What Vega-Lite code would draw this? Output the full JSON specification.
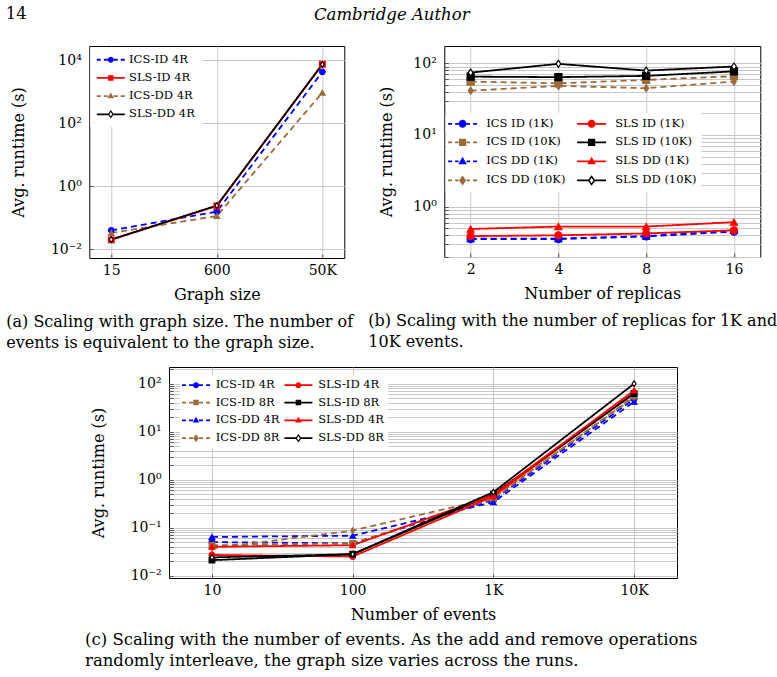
{
  "$schema": "https://vega.github.io/schema/vega-lite/v6.json",
  "padding": {"left": 5, "top": 6, "right": 0, "bottom": 0},
  "background": "white",
  "title": {"text": "Cambridge Author", "anchor": "middle", "frame": "bounds", "fontStyle": "italic", "fontSize": 16.5, "offset": 0, "dy": 30.2, "baseline": "alphabetic"},
  "datasets": {
    "a": [
      {"g": "15", "s": "ICS-ID 4R", "t": 0.040}, {"g": "600", "s": "ICS-ID 4R", "t": 0.156}, {"g": "50K", "s": "ICS-ID 4R", "t": 4300},
      {"g": "15", "s": "SLS-ID 4R", "t": 0.020}, {"g": "600", "s": "SLS-ID 4R", "t": 0.237}, {"g": "50K", "s": "SLS-ID 4R", "t": 7500},
      {"g": "15", "s": "ICS-DD 4R", "t": 0.033}, {"g": "600", "s": "ICS-DD 4R", "t": 0.114}, {"g": "50K", "s": "ICS-DD 4R", "t": 940},
      {"g": "15", "s": "SLS-DD 4R", "t": 0.0205}, {"g": "600", "s": "SLS-DD 4R", "t": 0.245}, {"g": "50K", "s": "SLS-DD 4R", "t": 7400}
    ],
    "b": [
      {"r": "2", "s": "ICS ID (1K)", "t": 0.355}, {"r": "4", "s": "ICS ID (1K)", "t": 0.355}, {"r": "8", "s": "ICS ID (1K)", "t": 0.386}, {"r": "16", "s": "ICS ID (1K)", "t": 0.45},
      {"r": "2", "s": "ICS ID (10K)", "t": 55.5}, {"r": "4", "s": "ICS ID (10K)", "t": 52.5}, {"r": "8", "s": "ICS ID (10K)", "t": 58.5}, {"r": "16", "s": "ICS ID (10K)", "t": 66},
      {"r": "2", "s": "ICS DD (1K)", "t": 0.36}, {"r": "4", "s": "ICS DD (1K)", "t": 0.36}, {"r": "8", "s": "ICS DD (1K)", "t": 0.39}, {"r": "16", "s": "ICS DD (1K)", "t": 0.47},
      {"r": "2", "s": "ICS DD (10K)", "t": 41.5}, {"r": "4", "s": "ICS DD (10K)", "t": 48.3}, {"r": "8", "s": "ICS DD (10K)", "t": 44.9}, {"r": "16", "s": "ICS DD (10K)", "t": 55.5},
      {"r": "2", "s": "SLS ID (1K)", "t": 0.39}, {"r": "4", "s": "SLS ID (1K)", "t": 0.40}, {"r": "8", "s": "SLS ID (1K)", "t": 0.425}, {"r": "16", "s": "SLS ID (1K)", "t": 0.47},
      {"r": "2", "s": "SLS ID (10K)", "t": 65}, {"r": "4", "s": "SLS ID (10K)", "t": 64}, {"r": "8", "s": "SLS ID (10K)", "t": 66.6}, {"r": "16", "s": "SLS ID (10K)", "t": 77},
      {"r": "2", "s": "SLS DD (1K)", "t": 0.49}, {"r": "4", "s": "SLS DD (1K)", "t": 0.53}, {"r": "8", "s": "SLS DD (1K)", "t": 0.53}, {"r": "16", "s": "SLS DD (1K)", "t": 0.61},
      {"r": "2", "s": "SLS DD (10K)", "t": 74}, {"r": "4", "s": "SLS DD (10K)", "t": 98}, {"r": "8", "s": "SLS DD (10K)", "t": 79}, {"r": "16", "s": "SLS DD (10K)", "t": 90}
    ],
    "c": [
      {"e": "10", "s": "ICS-ID 4R", "t": 0.050}, {"e": "100", "s": "ICS-ID 4R", "t": 0.047}, {"e": "1K", "s": "ICS-ID 4R", "t": 0.38}, {"e": "10K", "s": "ICS-ID 4R", "t": 48},
      {"e": "10", "s": "ICS-ID 8R", "t": 0.043}, {"e": "100", "s": "ICS-ID 8R", "t": 0.047}, {"e": "1K", "s": "ICS-ID 8R", "t": 0.40}, {"e": "10K", "s": "ICS-ID 8R", "t": 55},
      {"e": "10", "s": "ICS-DD 4R", "t": 0.064}, {"e": "100", "s": "ICS-DD 4R", "t": 0.068}, {"e": "1K", "s": "ICS-DD 4R", "t": 0.34}, {"e": "10K", "s": "ICS-DD 4R", "t": 42},
      {"e": "10", "s": "ICS-DD 8R", "t": 0.037}, {"e": "100", "s": "ICS-DD 8R", "t": 0.087}, {"e": "1K", "s": "ICS-DD 8R", "t": 0.42}, {"e": "10K", "s": "ICS-DD 8R", "t": 52},
      {"e": "10", "s": "SLS-ID 4R", "t": 0.027}, {"e": "100", "s": "SLS-ID 4R", "t": 0.025}, {"e": "1K", "s": "SLS-ID 4R", "t": 0.45}, {"e": "10K", "s": "SLS-ID 4R", "t": 65},
      {"e": "10", "s": "SLS-ID 8R", "t": 0.021}, {"e": "100", "s": "SLS-ID 8R", "t": 0.028}, {"e": "1K", "s": "SLS-ID 8R", "t": 0.50}, {"e": "10K", "s": "SLS-ID 8R", "t": 62},
      {"e": "10", "s": "SLS-DD 4R", "t": 0.040}, {"e": "100", "s": "SLS-DD 4R", "t": 0.043}, {"e": "1K", "s": "SLS-DD 4R", "t": 0.48}, {"e": "10K", "s": "SLS-DD 4R", "t": 72},
      {"e": "10", "s": "SLS-DD 8R", "t": 0.024}, {"e": "100", "s": "SLS-DD 8R", "t": 0.028}, {"e": "1K", "s": "SLS-DD 8R", "t": 0.55}, {"e": "10K", "s": "SLS-DD 8R", "t": 100}
    ]
  },
  "vconcat": [
    {
      "title": {"text": "14", "anchor": "start", "frame": "bounds", "fontSize": 16.5, "offset": 10, "baseline": "alphabetic"},
      "bounds": "flush",
      "spacing": 100,
      "resolve": {"scale": {"color": "independent", "fill": "independent", "stroke": "independent", "strokeDash": "independent", "shape": "independent"}},
      "hconcat": [
        {
          "width": 255,
          "height": 212,
          "data": {"name": "a"},
          "title": {"text": ["(a) Scaling with graph size. The number of", "events is equivalent to the graph size."], "orient": "bottom", "anchor": "start", "frame": "group", "align": "left", "dx": -83, "offset": 12, "fontSize": 16, "lineHeight": 20.5},
          "encoding": {
            "x": {"field": "g", "type": "ordinal", "scale": {"type": "point", "domain": ["15", "600", "50K"], "padding": 0.208}, "axis": {"title": "Graph size", "grid": true}},
            "y": {"field": "t", "type": "quantitative", "scale": {"type": "log", "domain": [0.0053, 28400], "nice": false}, "axis": {"title": "Avg. runtime (s)", "grid": true, "values": [0.01, 1, 100, 10000], "titlePadding": 24, "labelExpr": "datum.value >= 5000 ? '10⁴' : datum.value >= 50 ? '10²' : datum.value >= 0.5 ? '10⁰' : '10⁻²'"}}
          },
          "layer": [
            {
              "mark": {"type": "line", "strokeWidth": 1.8},
              "encoding": {
                "color": {"field": "s", "type": "nominal", "legend": null, "scale": {"domain": ["ICS-ID 4R", "SLS-ID 4R", "ICS-DD 4R", "SLS-DD 4R"], "range": ["#0000ff", "#ff0000", "#9c6b3c", "#000000"]}},
                "strokeDash": {"field": "s", "type": "nominal", "legend": null, "scale": {"domain": ["ICS-ID 4R", "SLS-ID 4R", "ICS-DD 4R", "SLS-DD 4R"], "range": [[6, 4], [1, 0], [6, 4], [1, 0]]}}
              }
            },
            {
              "mark": {"type": "point", "filled": true, "opacity": 1, "size": 32, "strokeWidth": 1.2},
              "encoding": {
                "fill": {"field": "s", "type": "nominal", "legend": null, "scale": {"domain": ["ICS-ID 4R", "SLS-ID 4R", "ICS-DD 4R", "SLS-DD 4R"], "range": ["#0000ff", "#ff0000", "#9c6b3c", "#ffffff"]}},
                "stroke": {"field": "s", "type": "nominal", "legend": null, "scale": {"domain": ["ICS-ID 4R", "SLS-ID 4R", "ICS-DD 4R", "SLS-DD 4R"], "range": ["#0000ff", "#ff0000", "#9c6b3c", "#000000"]}},
                "shape": {"field": "s", "type": "nominal", "legend": null, "scale": {"domain": ["ICS-ID 4R", "SLS-ID 4R", "ICS-DD 4R", "SLS-DD 4R"], "range": ["circle", "square", "triangle-up", "M0,-1L0.68,0L0,1L-0.68,0Z"]}}
              }
            },
            {
              "transform": [{"filter": "false"}],
              "mark": {"type": "point", "filled": true, "opacity": 1},
              "encoding": {
                "color": {"field": "s", "type": "nominal", "scale": {"domain": ["ICS-ID 4R", "SLS-ID 4R", "ICS-DD 4R", "SLS-DD 4R"], "range": ["#0000ff", "#ff0000", "#9c6b3c", "#000000"]},
                  "legend": {"title": null, "orient": "none", "legendX": 1, "legendY": 1, "padding": 7, "symbolOffset": 7.75, "labelOffset": 12.5, "rowPadding": 5.2, "columns": 1, "direction": "vertical"}},
                "shape": {"field": "s", "type": "nominal", "scale": {"domain": ["ICS-ID 4R", "SLS-ID 4R", "ICS-DD 4R", "SLS-DD 4R"], "range": [
                    "M-2.8,-0.18H-2.0V0.18H-2.8Z M-1.4,-0.18H-0.6V0.18H-1.4Z M0.6,-0.18H1.4V0.18H0.6Z M2.0,-0.18H2.8V0.18H2.0Z M0.6,0A0.6,0.6 0 1,1 -0.6,0A0.6,0.6 0 1,1 0.6,0Z",
                    "M-2.8,-0.18H2.8V0.18H-2.8Z M-0.55,-0.55H0.55V0.55H-0.55Z",
                    "M-2.8,-0.18H-2.0V0.18H-2.8Z M-1.4,-0.18H-0.6V0.18H-1.4Z M0.6,-0.18H1.4V0.18H0.6Z M2.0,-0.18H2.8V0.18H2.0Z M0,-0.72L0.66,0.44L-0.66,0.44Z",
                    "M-2.8,-0.18H-0.45V0.18H-2.8Z M0.45,-0.18H2.8V0.18H0.45Z M0,-0.85L0.6,0L0,0.85L-0.6,0Z M0,-0.45L-0.3,0L0,0.45L0.3,0Z"]},
                  "legend": {"title": null, "orient": "none", "legendX": 1, "legendY": 1, "padding": 7, "symbolOffset": 7.75, "labelOffset": 12.5, "rowPadding": 5.2, "columns": 1, "direction": "vertical"}}
              }
            }
          ],
          "resolve": {"scale": {"color": "independent", "shape": "independent"}}
        },
        {
          "width": 316,
          "height": 211,
          "data": {"name": "b"},
          "title": {"text": ["(b) Scaling with the number of replicas for 1K and", "10K events."], "orient": "bottom", "anchor": "start", "frame": "group", "align": "left", "dx": -76, "offset": 12, "fontSize": 16, "lineHeight": 20.5},
          "encoding": {
            "x": {"field": "r", "type": "ordinal", "scale": {"type": "point", "domain": ["2", "4", "8", "16"], "padding": 0.3}, "axis": {"title": "Number of replicas", "grid": true}},
            "y": {"field": "t", "type": "quantitative", "scale": {"type": "log", "domain": [0.1995, 173.8], "nice": false}, "axis": {"title": "Avg. runtime (s)", "grid": true, "titlePadding": 18,
              "values": [0.2, 0.3, 0.4, 0.5, 0.6, 0.7, 0.8, 0.9, 1, 2, 3, 4, 5, 6, 7, 8, 9, 10, 20, 30, 40, 50, 60, 70, 80, 90, 100],
              "labelExpr": "datum.value == 100 ? '10²' : datum.value == 10 ? '10¹' : datum.value == 1 ? '10⁰' : ''"}}
          },
          "layer": [
            {
              "mark": {"type": "line", "strokeWidth": 1.8},
              "encoding": {
                "color": {"field": "s", "type": "nominal", "legend": null, "scale": {"domain": ["ICS ID (1K)", "ICS ID (10K)", "ICS DD (1K)", "ICS DD (10K)", "SLS ID (1K)", "SLS ID (10K)", "SLS DD (1K)", "SLS DD (10K)"], "range": ["#0000ff", "#9c6b3c", "#0000ff", "#9c6b3c", "#ff0000", "#000000", "#ff0000", "#000000"]}},
                "strokeDash": {"field": "s", "type": "nominal", "legend": null, "scale": {"domain": ["ICS ID (1K)", "ICS ID (10K)", "ICS DD (1K)", "ICS DD (10K)", "SLS ID (1K)", "SLS ID (10K)", "SLS DD (1K)", "SLS DD (10K)"], "range": [[6, 4], [6, 4], [6, 4], [6, 4], [1, 0], [1, 0], [1, 0], [1, 0]]}}
              }
            },
            {
              "mark": {"type": "point", "filled": true, "opacity": 1, "size": 50, "strokeWidth": 1.2},
              "encoding": {
                "fill": {"field": "s", "type": "nominal", "legend": null, "scale": {"domain": ["ICS ID (1K)", "ICS ID (10K)", "ICS DD (1K)", "ICS DD (10K)", "SLS ID (1K)", "SLS ID (10K)", "SLS DD (1K)", "SLS DD (10K)"], "range": ["#0000ff", "#9c6b3c", "#0000ff", "#9c6b3c", "#ff0000", "#000000", "#ff0000", "#ffffff"]}},
                "stroke": {"field": "s", "type": "nominal", "legend": null, "scale": {"domain": ["ICS ID (1K)", "ICS ID (10K)", "ICS DD (1K)", "ICS DD (10K)", "SLS ID (1K)", "SLS ID (10K)", "SLS DD (1K)", "SLS DD (10K)"], "range": ["#0000ff", "#9c6b3c", "#0000ff", "#9c6b3c", "#ff0000", "#000000", "#ff0000", "#000000"]}},
                "shape": {"field": "s", "type": "nominal", "legend": null, "scale": {"domain": ["ICS ID (1K)", "ICS ID (10K)", "ICS DD (1K)", "ICS DD (10K)", "SLS ID (1K)", "SLS ID (10K)", "SLS DD (1K)", "SLS DD (10K)"], "range": ["circle", "square", "triangle-up", "M0,-1L0.68,0L0,1L-0.68,0Z", "circle", "square", "triangle-up", "M0,-1L0.68,0L0,1L-0.68,0Z"]}}
              }
            },
            {
              "transform": [{"filter": "false"}],
              "mark": {"type": "point", "filled": true, "opacity": 1},
              "encoding": {
                "color": {"field": "s", "type": "nominal", "scale": {"domain": ["ICS ID (1K)", "ICS ID (10K)", "ICS DD (1K)", "ICS DD (10K)", "SLS ID (1K)", "SLS ID (10K)", "SLS DD (1K)", "SLS DD (10K)"], "range": ["#0000ff", "#9c6b3c", "#0000ff", "#9c6b3c", "#ff0000", "#000000", "#ff0000", "#000000"]},
                  "legend": {"title": null, "orient": "none", "legendX": 1.3, "legendY": 66.7, "padding": 5, "symbolOffset": 6.25, "labelOffset": 17.9, "rowPadding": 6.0, "columnPadding": 11, "columns": 2, "direction": "vertical"}},
                "shape": {"field": "s", "type": "nominal", "scale": {"domain": ["ICS ID (1K)", "ICS ID (10K)", "ICS DD (1K)", "ICS DD (10K)", "SLS ID (1K)", "SLS ID (10K)", "SLS DD (1K)", "SLS DD (10K)"], "range": [
                    "M-2.9,-0.18H-2.1V0.18H-2.9Z M-1.5,-0.18H-0.8V0.18H-1.5Z M0.8,-0.18H1.5V0.18H0.8Z M2.1,-0.18H2.9V0.18H2.1Z M0.8,0A0.8,0.8 0 1,1 -0.8,0A0.8,0.8 0 1,1 0.8,0Z",
                    "M-2.9,-0.18H-2.1V0.18H-2.9Z M-1.5,-0.18H-0.8V0.18H-1.5Z M0.8,-0.18H1.5V0.18H0.8Z M2.1,-0.18H2.9V0.18H2.1Z M-0.72,-0.72H0.72V0.72H-0.72Z",
                    "M-2.9,-0.18H-2.1V0.18H-2.9Z M-1.5,-0.18H-0.8V0.18H-1.5Z M0.8,-0.18H1.5V0.18H0.8Z M2.1,-0.18H2.9V0.18H2.1Z M0,-0.95L0.85,0.55L-0.85,0.55Z",
                    "M-2.9,-0.18H-2.1V0.18H-2.9Z M-1.5,-0.18H-0.8V0.18H-1.5Z M0.8,-0.18H1.5V0.18H0.8Z M2.1,-0.18H2.9V0.18H2.1Z M0,-1.0L0.7,0L0,1.0L-0.7,0Z",
                    "M-2.9,-0.18H2.9V0.18H-2.9Z M0.8,0A0.8,0.8 0 1,1 -0.8,0A0.8,0.8 0 1,1 0.8,0Z",
                    "M-2.9,-0.18H2.9V0.18H-2.9Z M-0.72,-0.72H0.72V0.72H-0.72Z",
                    "M-2.9,-0.18H2.9V0.18H-2.9Z M0,-0.95L0.85,0.55L-0.85,0.55Z",
                    "M-2.9,-0.18H-0.55V0.18H-2.9Z M0.55,-0.18H2.9V0.18H0.55Z M0,-1.05L0.75,0L0,1.05L-0.75,0Z M0,-0.55L-0.38,0L0,0.55L0.38,0Z"]},
                  "legend": {"title": null, "orient": "none", "legendX": 1.3, "legendY": 66.7, "padding": 5, "symbolOffset": 6.25, "labelOffset": 17.9, "rowPadding": 6.0, "columnPadding": 11, "columns": 2, "direction": "vertical"}}
              }
            }
          ],
          "resolve": {"scale": {"color": "independent", "shape": "independent"}}
        }
      ]
    },
    {
      "width": 508,
      "height": 211,
      "data": {"name": "c"},
      "title": {"text": ["(c) Scaling with the number of events. As the add and remove operations", "randomly interleave, the graph size varies across the runs."], "orient": "bottom", "anchor": "start", "frame": "group", "align": "left", "dx": -84, "offset": 10, "fontSize": 16.5, "lineHeight": 21},
      "encoding": {
        "x": {"field": "e", "type": "ordinal", "scale": {"type": "point", "domain": ["10", "100", "1K", "10K"], "padding": 0.305}, "axis": {"title": "Number of events", "grid": true}},
        "y": {"field": "t", "type": "quantitative", "scale": {"type": "log", "domain": [0.00893, 223], "nice": false}, "axis": {"title": "Avg. runtime (s)", "grid": true, "titlePadding": 24,
          "values": [0.01, 0.02, 0.03, 0.04, 0.05, 0.06, 0.07, 0.08, 0.09, 0.1, 0.2, 0.3, 0.4, 0.5, 0.6, 0.7, 0.8, 0.9, 1, 2, 3, 4, 5, 6, 7, 8, 9, 10, 20, 30, 40, 50, 60, 70, 80, 90, 100, 200],
          "labelExpr": "datum.value == 100 ? '10²' : datum.value == 10 ? '10¹' : datum.value == 1 ? '10⁰' : datum.value == 0.1 ? '10⁻¹' : datum.value == 0.01 ? '10⁻²' : ''"}}
      },
      "layer": [
        {
          "mark": {"type": "line", "strokeWidth": 1.8},
          "encoding": {
            "color": {"field": "s", "type": "nominal", "legend": null, "scale": {"domain": ["ICS-ID 4R", "ICS-ID 8R", "ICS-DD 4R", "ICS-DD 8R", "SLS-ID 4R", "SLS-ID 8R", "SLS-DD 4R", "SLS-DD 8R"], "range": ["#0000ff", "#9c6b3c", "#0000ff", "#9c6b3c", "#ff0000", "#000000", "#ff0000", "#000000"]}},
            "strokeDash": {"field": "s", "type": "nominal", "legend": null, "scale": {"domain": ["ICS-ID 4R", "ICS-ID 8R", "ICS-DD 4R", "ICS-DD 8R", "SLS-ID 4R", "SLS-ID 8R", "SLS-DD 4R", "SLS-DD 8R"], "range": [[6, 4], [6, 4], [6, 4], [6, 4], [1, 0], [1, 0], [1, 0], [1, 0]]}}
          }
        },
        {
          "mark": {"type": "point", "filled": true, "opacity": 1, "size": 32, "strokeWidth": 1.2},
          "encoding": {
            "fill": {"field": "s", "type": "nominal", "legend": null, "scale": {"domain": ["ICS-ID 4R", "ICS-ID 8R", "ICS-DD 4R", "ICS-DD 8R", "SLS-ID 4R", "SLS-ID 8R", "SLS-DD 4R", "SLS-DD 8R"], "range": ["#0000ff", "#9c6b3c", "#0000ff", "#9c6b3c", "#ff0000", "#000000", "#ff0000", "#ffffff"]}},
            "stroke": {"field": "s", "type": "nominal", "legend": null, "scale": {"domain": ["ICS-ID 4R", "ICS-ID 8R", "ICS-DD 4R", "ICS-DD 8R", "SLS-ID 4R", "SLS-ID 8R", "SLS-DD 4R", "SLS-DD 8R"], "range": ["#0000ff", "#9c6b3c", "#0000ff", "#9c6b3c", "#ff0000", "#000000", "#ff0000", "#000000"]}},
            "shape": {"field": "s", "type": "nominal", "legend": null, "scale": {"domain": ["ICS-ID 4R", "ICS-ID 8R", "ICS-DD 4R", "ICS-DD 8R", "SLS-ID 4R", "SLS-ID 8R", "SLS-DD 4R", "SLS-DD 8R"], "range": ["circle", "square", "triangle-up", "M0,-1L0.68,0L0,1L-0.68,0Z", "circle", "square", "triangle-up", "M0,-1L0.68,0L0,1L-0.68,0Z"]}}
          }
        },
        {
          "transform": [{"filter": "false"}],
          "mark": {"type": "point", "filled": true, "opacity": 1},
          "encoding": {
            "color": {"field": "s", "type": "nominal", "scale": {"domain": ["ICS-ID 4R", "ICS-ID 8R", "ICS-DD 4R", "ICS-DD 8R", "SLS-ID 4R", "SLS-ID 8R", "SLS-DD 4R", "SLS-DD 8R"], "range": ["#0000ff", "#9c6b3c", "#0000ff", "#9c6b3c", "#ff0000", "#000000", "#ff0000", "#000000"]},
              "legend": {"title": null, "orient": "none", "legendX": 11, "legendY": 8, "padding": 4, "symbolOffset": 6.25, "labelOffset": 14, "rowPadding": 4.8, "columnPadding": 4.4, "columns": 2, "direction": "vertical"}},
            "shape": {"field": "s", "type": "nominal", "scale": {"domain": ["ICS-ID 4R", "ICS-ID 8R", "ICS-DD 4R", "ICS-DD 8R", "SLS-ID 4R", "SLS-ID 8R", "SLS-DD 4R", "SLS-DD 8R"], "range": [
                "M-2.8,-0.18H-2.0V0.18H-2.8Z M-1.4,-0.18H-0.6V0.18H-1.4Z M0.6,-0.18H1.4V0.18H0.6Z M2.0,-0.18H2.8V0.18H2.0Z M0.6,0A0.6,0.6 0 1,1 -0.6,0A0.6,0.6 0 1,1 0.6,0Z",
                "M-2.8,-0.18H-2.0V0.18H-2.8Z M-1.4,-0.18H-0.6V0.18H-1.4Z M0.6,-0.18H1.4V0.18H0.6Z M2.0,-0.18H2.8V0.18H2.0Z M-0.55,-0.55H0.55V0.55H-0.55Z",
                "M-2.8,-0.18H-2.0V0.18H-2.8Z M-1.4,-0.18H-0.6V0.18H-1.4Z M0.6,-0.18H1.4V0.18H0.6Z M2.0,-0.18H2.8V0.18H2.0Z M0,-0.72L0.66,0.44L-0.66,0.44Z",
                "M-2.8,-0.18H-2.0V0.18H-2.8Z M-1.4,-0.18H-0.6V0.18H-1.4Z M0.6,-0.18H1.4V0.18H0.6Z M2.0,-0.18H2.8V0.18H2.0Z M0,-0.8L0.55,0L0,0.8L-0.55,0Z",
                "M-2.8,-0.18H2.8V0.18H-2.8Z M0.6,0A0.6,0.6 0 1,1 -0.6,0A0.6,0.6 0 1,1 0.6,0Z",
                "M-2.8,-0.18H2.8V0.18H-2.8Z M-0.55,-0.55H0.55V0.55H-0.55Z",
                "M-2.8,-0.18H2.8V0.18H-2.8Z M0,-0.72L0.66,0.44L-0.66,0.44Z",
                "M-2.8,-0.18H-0.45V0.18H-2.8Z M0.45,-0.18H2.8V0.18H0.45Z M0,-0.85L0.6,0L0,0.85L-0.6,0Z M0,-0.45L-0.3,0L0,0.45L0.3,0Z"]},
              "legend": {"title": null, "orient": "none", "legendX": 11, "legendY": 8, "padding": 4, "symbolOffset": 6.25, "labelOffset": 14, "rowPadding": 4.8, "columnPadding": 4.4, "columns": 2, "direction": "vertical"}}
          }
        }
      ],
      "resolve": {"scale": {"color": "independent", "shape": "independent"}}
    }
  ],
  "spacing": 15,
  "center": true,
  "resolve": {"scale": {"color": "independent", "fill": "independent", "stroke": "independent", "strokeDash": "independent", "shape": "independent"}},
  "config": {
    "font": "DejaVu Serif",
    "view": {"stroke": "#000000", "strokeWidth": 1},
    "axis": {"labelFont": "DejaVu Serif", "labelFontSize": 14, "labelColor": "#000000", "titleFont": "DejaVu Serif", "titleFontSize": 16, "titleFontWeight": "normal", "titleColor": "#000000", "gridColor": "#c8c8c8", "gridWidth": 1, "gridOpacity": 1, "domain": false, "ticks": true, "tickSize": -4, "tickColor": "#555555", "tickWidth": 1},
    "axisX": {"labelAngle": 0, "labelPadding": 9, "titlePadding": 9},
    "axisY": {"labelPadding": 12},
    "legend": {"labelFont": "DejaVu Serif", "labelFontSize": 11.5, "labelColor": "#000000", "symbolStrokeWidth": 0, "symbolSize": 100, "fillColor": "#ffffff"},
    "title": {"font": "DejaVu Serif", "fontWeight": "normal", "color": "#000000"}
  }
}
